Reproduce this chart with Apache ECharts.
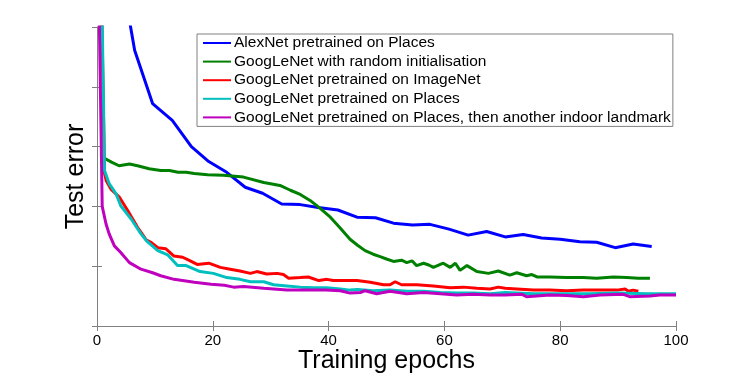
<!DOCTYPE html>
<html>
<head>
<meta charset="utf-8">
<script src="https://cdn.jsdelivr.net/npm/echarts/dist/echarts.min.js"></script>
<style>
    html, body { margin: 0; padding: 0; background: #fff; }
    #errChart { width: 747px; height: 373px; }
</style>
</head>
<body>
<div id="errChart"></div>
<script>
var seriesNames = [
    'AlexNet pretrained on Places',
    'GoogLeNet with random initialisation',
    'GoogLeNet pretrained on ImageNet',
    'GoogLeNet pretrained on Places',
    'GoogLeNet pretrained on Places, then another indoor landmark'
];
var xTicks = [0, 20, 40, 60, 80, 100];

var alexEpochs = [5, 6.5, 9.6, 13, 16.3, 19.3, 22.4, 25.6, 28.6, 31.9, 35.1, 38.2, 41.6, 44.9, 48.1, 51.2, 54.5, 57.5, 60.8, 64.1, 67.3, 70.5, 73.6, 76.8, 80, 83.4, 86.3, 89.5, 92.6, 95.8];
var alexErr = [5.45, 4.61, 3.72, 3.44, 3.0, 2.75, 2.57, 2.32, 2.22, 2.04, 2.03, 1.98, 1.94, 1.82, 1.81, 1.72, 1.69, 1.70, 1.62, 1.52, 1.58, 1.49, 1.53, 1.47, 1.45, 1.41, 1.40, 1.31, 1.37, 1.33];

var randEpochs = [1.2, 2.5, 3.8, 5.6, 7, 9, 11, 12.5, 14, 15.4, 16.8, 19.1, 21.8, 25.3, 28.8, 31.6, 33.4, 35.1, 36.8, 38.5, 40.3, 42, 43.7, 45, 46.3, 47.7, 48.9, 50, 51.2, 52.6, 53.5, 54.4, 55.2, 56.4, 57.3, 58.1, 59.8, 61, 61.9, 62.7, 63.9, 65.6, 67.6, 69.3, 71.3, 72.5, 74.2, 75.1, 76, 78.2, 81.1, 84, 86.3, 89.2, 91.5, 93.5, 95.5];
var randErr = [2.81, 2.74, 2.68, 2.71, 2.68, 2.63, 2.60, 2.60, 2.57, 2.57, 2.55, 2.53, 2.52, 2.49, 2.40, 2.35, 2.27, 2.20, 2.10, 1.97, 1.82, 1.64, 1.45, 1.35, 1.26, 1.20, 1.16, 1.12, 1.08, 1.10, 1.06, 1.09, 1.01, 1.05, 1.02, 0.98, 1.05, 0.98, 1.05, 0.93, 1.01, 0.91, 0.88, 0.92, 0.85, 0.89, 0.84, 0.86, 0.82, 0.82, 0.81, 0.81, 0.80, 0.82, 0.81, 0.80, 0.80];

var imnetEpochs = [0.5, 1.3, 1.6, 2.4, 3.9, 5.3, 7, 8.5, 9.3, 10.5, 11.9, 13.3, 14.8, 16.1, 17.3, 19.3, 21.3, 23, 24.7, 26.5, 27.6, 29.3, 31.1, 32.2, 33.1, 35.1, 36.5, 38.3, 39.7, 40.8, 43.7, 44.9, 47.2, 49.5, 50.6, 51.5, 52.6, 55.2, 58.1, 61, 63.3, 65.6, 67.9, 69.3, 70.5, 72.5, 75.4, 78.2, 81.1, 84, 86.9, 89.8, 91.2, 91.8, 92.6, 93.5];
var imnetErr = [7, 2.55, 2.43, 2.29, 2.15, 1.93, 1.65, 1.44, 1.40, 1.31, 1.29, 1.17, 1.15, 1.09, 1.03, 1.05, 0.98, 0.95, 0.92, 0.88, 0.91, 0.87, 0.88, 0.86, 0.80, 0.81, 0.82, 0.76, 0.78, 0.76, 0.76, 0.76, 0.73, 0.69, 0.69, 0.74, 0.69, 0.69, 0.67, 0.64, 0.65, 0.63, 0.62, 0.65, 0.63, 0.62, 0.60, 0.60, 0.59, 0.60, 0.60, 0.60, 0.62, 0.58, 0.60, 0.58];

var placesEpochs = [0.6, 1.3, 2.1, 3.3, 4.1, 5.9, 7.6, 8.7, 10.5, 12.2, 13.9, 15.4, 16.8, 17.8, 20.1, 22.4, 24.7, 26.5, 28.8, 30.5, 32.8, 35.1, 37.4, 39.7, 42, 43.7, 45, 47.7, 50.6, 53.5, 56.4, 59.3, 62.1, 65, 67.9, 70.5, 75.4, 80, 85, 90, 95, 100];
var placesErr = [7, 2.6, 2.38, 2.21, 2.01, 1.79, 1.54, 1.41, 1.26, 1.19, 1.01, 1.01, 0.95, 0.91, 0.88, 0.81, 0.78, 0.74, 0.74, 0.69, 0.67, 0.65, 0.64, 0.64, 0.62, 0.60, 0.61, 0.59, 0.60, 0.58, 0.58, 0.56, 0.55, 0.55, 0.54, 0.56, 0.54, 0.54, 0.54, 0.55, 0.54, 0.54];

var indoorEpochs = [0.1, 0.9, 1.55, 2.1, 3, 4.1, 5.6, 7.6, 9.6, 11, 13.3, 16.8, 19.7, 22, 23.6, 25.3, 28.8, 32.8, 36, 39.5, 42, 43.7, 45.5, 46.3, 48.3, 50.6, 53.5, 56.4, 59.3, 62.1, 65, 67.9, 70.5, 73.4, 74.2, 78.2, 81.1, 84, 86.9, 90.9, 92, 95.5, 97.2, 100];
var indoorErr = [7, 2.0, 1.71, 1.54, 1.34, 1.23, 1.06, 0.95, 0.89, 0.84, 0.78, 0.73, 0.70, 0.68, 0.65, 0.66, 0.63, 0.60, 0.60, 0.60, 0.59, 0.55, 0.56, 0.59, 0.54, 0.58, 0.54, 0.56, 0.54, 0.52, 0.53, 0.52, 0.52, 0.53, 0.49, 0.52, 0.51, 0.49, 0.52, 0.53, 0.49, 0.50, 0.52, 0.52];

var lineColors = ['#0000ff', '#008000', '#ff0000', '#00bfbf', '#bf00bf'];

function zip(xs, ys) {
    var out = [];
    for (var i = 0; i < xs.length; i++) {
        out.push([xs[i], ys[i]]);
    }
    return out;
}

var allData = [
    zip(alexEpochs, alexErr),
    zip(randEpochs, randErr),
    zip(imnetEpochs, imnetErr),
    zip(placesEpochs, placesErr),
    zip(indoorEpochs, indoorErr)
];

var frameColor = '#808080';
var fontName = 'Liberation Sans';

function xAxisCfg(pos, withLabels) {
    return {
        type: 'value',
        position: pos,
        min: xTicks[0],
        max: xTicks[xTicks.length - 1],
        interval: xTicks[1] - xTicks[0],
        axisLine: { show: true, lineStyle: { color: frameColor, width: 1 } },
        axisTick: { show: true, inside: true, length: 5, lineStyle: { color: frameColor } },
        axisLabel: { show: withLabels, color: '#000', fontSize: 15, margin: 7, fontFamily: fontName },
        splitLine: { show: false },
        name: withLabels ? 'Training epochs' : '',
        nameLocation: 'middle',
        nameGap: 23,
        nameMoveOverlap: false,
        nameTextStyle: { color: '#000', fontSize: 25, fontFamily: fontName }
    };
}

function yAxisCfg(pos, withName) {
    return {
        type: 'value',
        position: pos,
        min: 0,
        max: 5,
        interval: 1,
        axisLine: { show: true, lineStyle: { color: frameColor, width: 1 } },
        axisTick: { show: true, inside: true, length: 5, lineStyle: { color: frameColor } },
        axisLabel: { show: false },
        splitLine: { show: false },
        name: withName ? 'Test error' : '',
        nameLocation: 'middle',
        nameGap: 8,
        nameRotate: 90,
        nameTextStyle: { color: '#000', fontSize: 25, fontFamily: fontName }
    };
}

var series = [];
for (var k = 0; k < seriesNames.length; k++) {
    series.push({
        name: seriesNames[k],
        type: 'line',
        data: allData[k],
        showSymbol: false,
        symbol: 'none',
        clip: true,
        color: lineColors[k],
        lineStyle: { width: 3, color: lineColors[k] }
    });
}

var myChart = echarts.init(document.getElementById('errChart'));
var option = {
    animation: false,
    backgroundColor: '#fff',
    grid: { left: 97, right: 71, top: 27, bottom: 47, outerBoundsMode: 'none', containLabel: false },
    legend: {
        orient: 'vertical',
        left: 197,
        top: 34,
        data: seriesNames,
        itemWidth: 28,
        itemHeight: 14,
        itemGap: 2.6,
        padding: [1, 2, 1, 5],
        backgroundColor: '#fff',
        borderColor: frameColor,
        borderWidth: 1,
        borderRadius: 0,
        itemStyle: { opacity: 0 },
        textStyle: { color: '#000', fontSize: 15.5, lineHeight: 14, fontFamily: fontName, padding: [0, 0, 0, -2] }
    },
    xAxis: [xAxisCfg('bottom', true), xAxisCfg('top', false)],
    yAxis: [yAxisCfg('left', true), yAxisCfg('right', false)],
    series: series
};
myChart.setOption(option);
</script>
</body>
</html>
